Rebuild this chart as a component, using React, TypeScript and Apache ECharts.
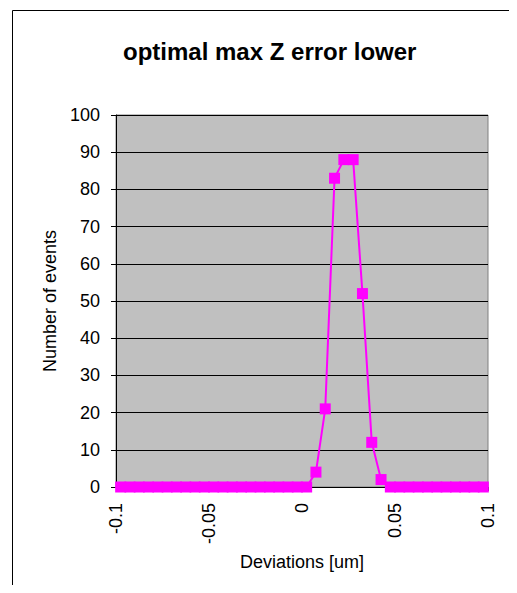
import React, { useEffect, useRef } from "react";
import * as echarts from "echarts";

// Histogram bin centres (um) and event counts per bin
const binCenters = [
  -0.0975, -0.0925, -0.0875, -0.0825, -0.0775, -0.0725, -0.0675, -0.0625,
  -0.0575, -0.0525, -0.0475, -0.0425, -0.0375, -0.0325, -0.0275, -0.0225,
  -0.0175, -0.0125, -0.0075, -0.0025, 0.0025, 0.0075, 0.0125, 0.0175,
  0.0225, 0.0275, 0.0325, 0.0375, 0.0425, 0.0475, 0.0525, 0.0575,
  0.0625, 0.0675, 0.0725, 0.0775, 0.0825, 0.0875, 0.0925, 0.0975,
];
const eventCounts = [
  0, 0, 0, 0, 0, 0, 0, 0,
  0, 0, 0, 0, 0, 0, 0, 0,
  0, 0, 0, 0, 0, 4, 21, 83,
  88, 88, 52, 12, 2, 0, 0, 0,
  0, 0, 0, 0, 0, 0, 0, 0,
];

const titleText = "optimal max Z error lower";
const xAxisName = "Deviations [um]";
const yAxisName = "Number of events";

const FONT = "'Liberation Sans', Arial, sans-serif";

export default function App() {
  const ref = useRef<HTMLDivElement>(null);

  useEffect(() => {
    if (!ref.current) return;
    const chart = echarts.init(ref.current, undefined, { renderer: "svg" });
    const points = binCenters.map((x, i) => [x, eventCounts[i]]);

    chart.setOption({
      animation: false,
      backgroundColor: "#ffffff",
      textStyle: { fontFamily: FONT, color: "#000" },
      title: {
        text: titleText,
        left: 118,
        top: 34,
        textStyle: { fontFamily: FONT, fontSize: 24, fontWeight: "bold", color: "#000" },
      },
      graphic: [
        {
          type: "rect",
          shape: { x: 12.5, y: 10.5, width: 600, height: 700 },
          style: { fill: "none", stroke: "#000", lineWidth: 1 },
          silent: true,
          z: -1,
        },
      ],
      grid: {
        left: 116,
        right: 29,
        top: 115,
        bottom: 106,
        show: true,
        backgroundColor: "#C0C0C0",
        borderColor: "#808080",
        borderWidth: 1,
      },
      xAxis: {
        type: "value",
        min: -0.1,
        max: 0.1,
        interval: 0.05,
        name: xAxisName,
        nameLocation: "middle",
        nameGap: 66,
        nameTextStyle: { fontFamily: FONT, fontSize: 18, color: "#000" },
        axisLine: { onZero: false, lineStyle: { color: "#000", width: 1 } },
        axisTick: { show: true, length: 4, lineStyle: { color: "#000" } },
        axisLabel: {
          rotate: 90,
          margin: 16,
          fontFamily: FONT,
          fontSize: 18,
          color: "#000",
        },
        splitLine: { show: false },
      },
      yAxis: {
        type: "value",
        min: 0,
        max: 100,
        interval: 10,
        name: yAxisName,
        nameLocation: "middle",
        nameRotate: 90,
        nameGap: 55,
        nameTextStyle: { fontFamily: FONT, fontSize: 18, color: "#000" },
        axisLine: { show: true, onZero: false, lineStyle: { color: "#000", width: 1 } },
        axisTick: { show: true, length: 5, lineStyle: { color: "#000" } },
        axisLabel: { margin: 16, fontFamily: FONT, fontSize: 18, color: "#000" },
        splitLine: { show: true, lineStyle: { color: "#000", width: 1 } },
      },
      series: [
        {
          type: "line",
          data: points,
          symbol: "rect",
          symbolSize: 11,
          showAllSymbol: true,
          lineStyle: { color: "#FF00FF", width: 2 },
          itemStyle: { color: "#FF00FF" },
          clip: false,
        },
      ],
    });

    return () => chart.dispose();
  }, []);

  return <div ref={ref} style={{ width: 517, height: 593, margin: -8 }} />;
}
